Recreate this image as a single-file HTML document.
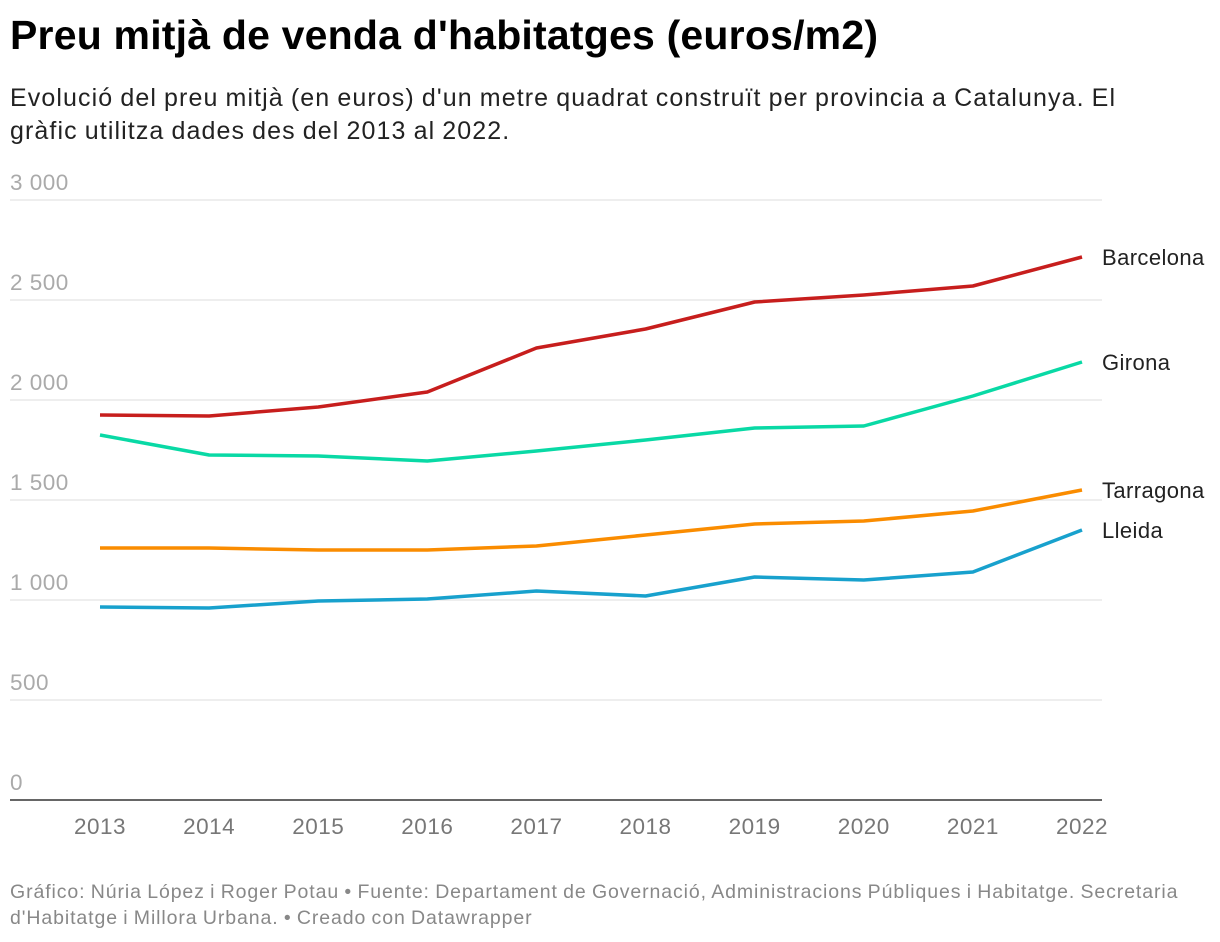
<!DOCTYPE html>
<html><head><meta charset="utf-8">
<style>
body{margin:0;background:#fff;font-family:"Liberation Sans",sans-serif;width:1220px;height:942px;overflow:hidden;position:relative}
h1{position:absolute;left:10px;top:12px;margin:0;font-size:41px;font-weight:bold;color:#000;letter-spacing:0.2px;white-space:nowrap}
.sub{position:absolute;left:10px;top:82px;margin:0;font-size:25px;line-height:33px;color:#222;width:1200px;letter-spacing:1.1px;word-spacing:-1px;white-space:nowrap}
.foot{position:absolute;left:10px;top:879px;font-size:19.5px;line-height:26px;color:#888;width:1210px;letter-spacing:0.9px;word-spacing:-1px;white-space:nowrap}
svg{position:absolute;left:0;top:0}
</style></head><body>
<h1>Preu mitjà de venda d'habitatges (euros/m2)</h1>
<p class="sub">Evolució del preu mitjà (en euros) d'un metre quadrat construït per provincia a Catalunya. El<br>gràfic utilitza dades des del 2013 al 2022.</p>
<svg id="chart" width="1220" height="942"></svg>
<div class="foot">Gráfico: Núria López i Roger Potau • Fuente: Departament de Governació, Administracions Públiques i Habitatge. Secretaria<br>d'Habitatge i Millora Urbana. • Creado con Datawrapper</div>
<script>
const years=[2013,2014,2015,2016,2017,2018,2019,2020,2021,2022];
const yTicks=[0,500,1000,1500,2000,2500,3000];
const yTickLabels=["0","500","1 000","1 500","2 000","2 500","3 000"];
const seriesNames=["Barcelona","Girona","Tarragona","Lleida"];
const seriesColors=["#c71e1d","#09d9a5","#fa8c00","#18a1cd"];
const barcelona=[1925,1920,1965,2040,2260,2355,2490,2525,2570,2715];
const girona=[1825,1725,1720,1695,1745,1800,1860,1870,2020,2190];
const tarragona=[1260,1260,1250,1250,1270,1325,1380,1395,1445,1550];
const lleida=[965,960,995,1005,1045,1020,1115,1100,1140,1350];
const allSeries=[barcelona,girona,tarragona,lleida];
const NS="http://www.w3.org/2000/svg";
const svg=document.getElementById('chart');
const x=i=>100+i*(1082-100)/(years.length-1);
const y=v=>800-v*600/3000;
function mk(t,a){const e=document.createElementNS(NS,t);for(const k in a)e.setAttribute(k,a[k]);svg.appendChild(e);return e;}
yTicks.forEach((v,i)=>{
  if(v>0){const g=mk('line',{x1:10,x2:1102,y1:y(v),y2:y(v),stroke:'#ddd','stroke-width':1});
  
  }
  const t=mk('text',{x:10,y:y(v)-10,'font-size':22.5,fill:'#aaa','letter-spacing':0.5});
  t.textContent=yTickLabels[i];
  
  
});
const ax=mk('line',{x1:10,x2:1102,y1:800,y2:800,stroke:'#333','stroke-width':1.5});


years.forEach((yr,i)=>{
  const t=mk('text',{x:x(i),y:834,'font-size':22.5,fill:'#777','text-anchor':'middle','letter-spacing':0.5});
  t.textContent=yr;
  
  
});
allSeries.forEach((s,k)=>{
  const p=mk('polyline',{points:s.map((v,i)=>x(i)+','+y(v)).join(' '),fill:'none',stroke:seriesColors[k],'stroke-width':3.5,'stroke-linejoin':'round'});
  
  
  const t=mk('text',{x:1102,y:y(s[s.length-1])+8,'font-size':22,fill:'#222','letter-spacing':0.4});
  t.textContent=seriesNames[k];
  
  
});
</script>
</body></html>
